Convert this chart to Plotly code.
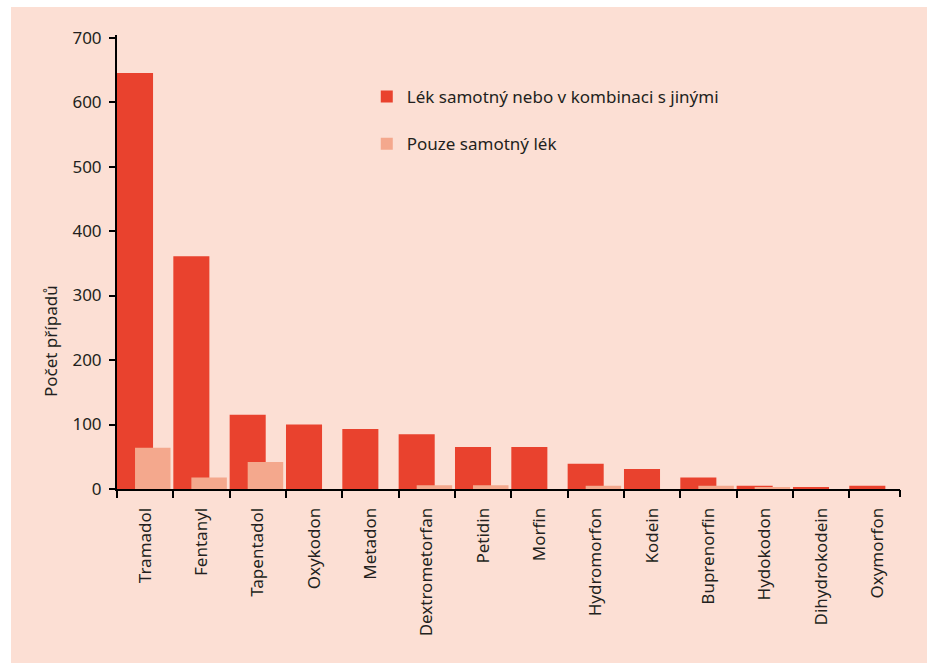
import plotly.graph_objects as go

categories = ["Tramadol", "Fentanyl", "Tapentadol", "Oxykodon", "Metadon", "Dextrometorfan",
              "Petidin", "Morfin", "Hydromorfon", "Kodein", "Buprenorfin", "Hydokodon",
              "Dihydrokodein", "Oxymorfon"]
combined = [645, 361, 115, 100, 93, 85, 65, 65, 39, 31, 18, 5, 3, 5]
alone = [64, 18, 42, 0, 0, 6, 6, 0, 5, 0, 5, 3, 0, 0]

series_names = ["Lék samotný nebo v kombinaci s jinými", "Pouze samotný lék"]
y_title = "Počet případů"
y_ticks = [0, 100, 200, 300, 400, 500, 600, 700]

DARK = "#E9422E"
LIGHT = "#F4A88D"
BG = "#FCDFD4"
TXT = "#231F20"
FONT = "Noto Sans"

fig = go.Figure()
fig.add_trace(go.Bar(x=categories, y=combined, name=series_names[0], marker_color=DARK,
                     marker_line_width=0, offset=-0.5, width=0.64, legendgroup="a"))
fig.add_trace(go.Bar(x=categories, y=alone, name=series_names[1], marker_color=LIGHT,
                     marker_line_width=0, offset=-0.18, width=0.63, legendgroup="b"))

xmax = len(categories) - 0.6
PW, PH = 783, 454

fig.update_layout(
    width=927, height=663,
    margin=dict(l=117, r=27, t=35, b=174),
    paper_bgcolor=BG,
    plot_bgcolor="rgba(0,0,0,0)",
    barmode="overlay",
    font=dict(family=FONT, color=TXT, size=16),
    showlegend=True,
    legend=dict(x=0.319, y=0.903, xanchor="left", yanchor="top", bgcolor="rgba(0,0,0,0)",
                traceorder="grouped", tracegroupgap=22, font=dict(size=17, family=FONT, color=TXT),
                itemsizing="constant"),
    xaxis=dict(type="category", range=[-0.5, xmax], tickangle=-90, ticks="outside",
               tickson="boundaries", ticklen=7, tickwidth=2, tickcolor="black",
               showline=True, linecolor="black", linewidth=2, showgrid=False,
               ticklabelstandoff=10,
               tickfont=dict(size=17, family=FONT, color=TXT)),
    xaxis2=dict(overlaying="x", type="linear", range=[-0.5, xmax], tickvals=[xmax],
                ticks="outside", ticklen=7, tickwidth=2, tickcolor="black",
                showticklabels=False, showgrid=False, zeroline=False, side="bottom",
                anchor="y"),
    yaxis=dict(range=[0, 704], tickvals=y_ticks, ticks="outside", ticklen=6, tickwidth=2,
               tickcolor="black", showline=True, linecolor="black", linewidth=2,
               showgrid=False, zeroline=False, ticklabelstandoff=4,
               tickfont=dict(size=17, family=FONT, color=TXT)),
    annotations=[dict(text=y_title, xref="paper", yref="paper", x=-67/PW, y=148/PH,
                      textangle=-90, showarrow=False, xanchor="center", yanchor="middle",
                      font=dict(size=17, family=FONT, color=TXT))],
    shapes=[
        dict(type="rect", xref="paper", yref="paper",
             x0=-117/PW, x1=-106/PW, y0=-174/PH, y1=1 + 35/PH,
             fillcolor="white", line_width=0, layer="below"),
        dict(type="rect", xref="paper", yref="paper",
             x0=-117/PW, x1=810/PW, y0=1 + 28/PH, y1=1 + 35/PH,
             fillcolor="white", line_width=0, layer="below"),
    ],
)
fig.add_trace(go.Scatter(x=[xmax], y=[0], xaxis="x2", mode="markers",
                         marker=dict(opacity=0), showlegend=False, hoverinfo="skip"))

fig.write_html("out.html", config={"displayModeBar": False},
               post_script="document.documentElement.style.overflow='hidden';"
                           "document.body.style.margin='0';document.body.style.overflow='hidden';")
